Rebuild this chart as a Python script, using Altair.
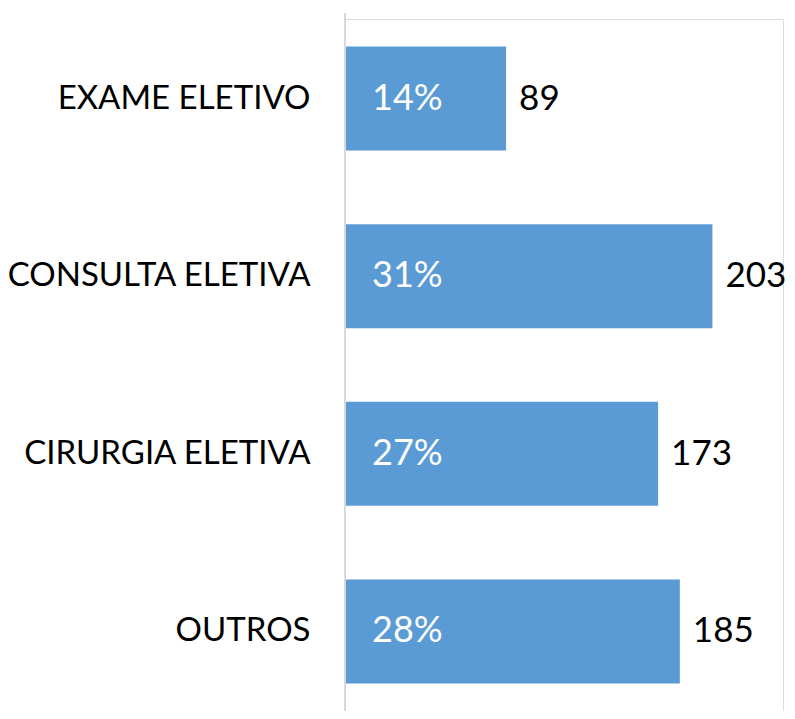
import altair as alt
import pandas as pd

categories = ["EXAME ELETIVO", "CONSULTA ELETIVA", "CIRURGIA ELETIVA", "OUTROS"]
counts = [89, 203, 173, 185]
percents = ["14%", "31%", "27%", "28%"]

df = pd.DataFrame({"cat": categories, "n": counts, "pct": percents})

FONT = "Lato"
H = 692

yscale = alt.Scale(paddingInner=0.415, paddingOuter=0.155)
y = alt.Y("cat:N", sort=categories, title=None, scale=yscale,
          axis=alt.Axis(domain=False, ticks=False, labelFontSize=33,
                        labelFont=FONT, labelColor="#000000", labelPadding=35,
                        labelLimit=400, grid=False))
x = alt.X("n:Q", title=None, scale=alt.Scale(domain=[0, 242], nice=False),
          axis=None)

base = alt.Chart(df)

bars = base.mark_bar(color="#5B9BD5").encode(x=x, y=y)

pct = base.mark_text(align="left", baseline="middle", dx=27, color="white",
                     fontSize=36, font=FONT).encode(
    x=alt.datum(0), y=alt.Y("cat:N", sort=categories, scale=yscale), text="pct:N")

vals = base.mark_text(align="left", baseline="middle", dx=13, color="black",
                      fontSize=35, font=FONT).encode(
    x="n:Q", y=alt.Y("cat:N", sort=categories, scale=yscale), text="n:Q")

axis_line = alt.Chart(df).mark_rule(color="#d9d9d9", strokeWidth=2).encode(
    x=alt.value(0), y=alt.value(-6), y2=alt.value(H))

chart = alt.layer(bars, axis_line, pct, vals).properties(
    width=438, height=H,
    autosize=alt.AutoSizeParams(type="none"),
    padding={"left": 337, "top": 11, "right": 4, "bottom": 0},
).configure_view(strokeWidth=0, stroke="transparent").configure(background="white")

chart.save("out.html", embed_options={"renderer": "svg", "actions": False})
